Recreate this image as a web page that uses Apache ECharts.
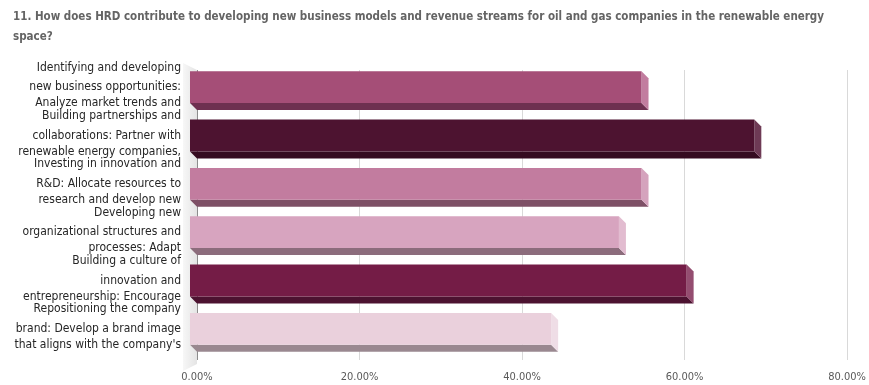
<!DOCTYPE html>
<html>
<head>
<meta charset="utf-8">
<script src="https://cdn.jsdelivr.net/npm/echarts@6/dist/echarts.min.js"></script>
<style>
  html, body { margin: 0; padding: 0; background: #fff; }
  #chart { width: 869px; height: 385px; }
</style>
</head>
<body>
<div id="chart"></div>
<script>
// Survey question and answer options (labels are cut to three lines each)
const titleText = '11. How does HRD contribute to developing new business models and revenue streams for oil and gas companies in the renewable energy\nspace?';

const categories = [
  'Identifying and developing\nnew business opportunities:\nAnalyze market trends and',
  'Building partnerships and\ncollaborations: Partner with\nrenewable energy companies,',
  'Investing in innovation and\nR&D: Allocate resources to\nresearch and develop new',
  'Developing new\norganizational structures and\nprocesses: Adapt',
  'Building a culture of\ninnovation and\nentrepreneurship: Encourage',
  'Repositioning the company\nbrand: Develop a brand image\nthat aligns with the company\'s'
];

// Share of respondents per option (percent)
const values = [55.56, 69.44, 55.56, 52.78, 61.11, 44.44];

// Face colours for each bar: front, bottom, right side
const frontColors = ['#a54e77', '#4d1330', '#c27c9f', '#d7a4bf', '#741c46', '#ead0dc'];
const bottomColors = ['#6e3050', '#350b20', '#7e5066', '#8c6c7c', '#4c1230', '#9a8890'];
const sideColors = ['#c27d9f', '#6e3a55', '#d5a3bd', '#e2bcd0', '#944d70', '#efdde6'];

// Value axis ticks
const axisMin = 0, axisMax = 80, axisStep = 20;

const DEPTH = 7;        // pseudo-3D depth offset in px
const BAR_RATIO = 0.66; // bar thickness relative to category band

const chart = echarts.init(document.getElementById('chart'));

function renderBar(params, api) {
  const v = api.value(0);
  const idx = api.value(1);
  const p0 = api.coord([0, idx]);
  const p1 = api.coord([v, idx]);
  const band = api.size([0, 1])[1];
  const h = band * BAR_RATIO;
  const bx0 = p0[0], bx1 = p1[0];
  const by0 = p0[1] - h / 2, by1 = p0[1] + h / 2;
  const d = DEPTH;
  return {
    type: 'group',
    children: [
      {
        type: 'polygon',
        shape: { points: [[bx0 - d, by1 - d], [bx1 - d, by1 - d], [bx1, by1], [bx0, by1]] },
        style: { fill: bottomColors[idx] }
      },
      {
        type: 'polygon',
        shape: { points: [[bx1 - d, by0 - d], [bx1, by0], [bx1, by1], [bx1 - d, by1 - d]] },
        style: { fill: sideColors[idx] }
      },
      {
        type: 'rect',
        shape: { x: bx0 - d, y: by0 - d, width: bx1 - bx0, height: by1 - by0 },
        style: { fill: frontColors[idx] }
      }
    ]
  };
}

// Left side wall of the 3D plot area
function renderWall(params, api) {
  const cs = params.coordSys;
  const x0 = api.coord([0, 0])[0];
  const top = cs.y, bottom = cs.y + cs.height;
  const w = 14;
  return {
    type: 'polygon',
    shape: { points: [[x0 - w, top - 7], [x0, top], [x0, bottom + 4], [x0 - w, bottom + 11]] },
    style: {
      fill: new echarts.graphic.LinearGradient(0, 0, 1, 0, [
        { offset: 0, color: '#f7f7f7' },
        { offset: 1, color: '#e4e4e4' }
      ])
    }
  };
}

chart.setOption({
  animation: false,
  backgroundColor: '#ffffff',
  title: {
    text: titleText,
    left: 8,
    top: 2,
    textStyle: {
      fontFamily: 'DejaVu Sans Condensed, sans-serif',
      fontSize: 11.5,
      fontWeight: 'bold',
      color: '#646464',
      lineHeight: 20
    }
  },
  grid: { left: 197, right: 17, top: 70, height: 290 },
  xAxis: {
    type: 'value',
    min: axisMin,
    max: axisMax,
    interval: axisStep,
    axisLine: { show: false },
    axisTick: { show: false },
    splitLine: {
      show: true,
      lineStyle: { color: ['#8c8c8c', '#d9d9d9', '#d9d9d9', '#d9d9d9', '#d9d9d9'], width: 1 }
    },
    axisLabel: {
      margin: 12,
      formatter: v => v.toFixed(2) + '%',
      fontFamily: 'DejaVu Sans Condensed, sans-serif',
      fontSize: 11,
      color: '#595959'
    }
  },
  yAxis: {
    type: 'category',
    inverse: true,
    data: categories,
    axisLine: { show: false },
    axisTick: { show: false },
    splitLine: { show: false },
    axisLabel: {
      margin: 16,
      align: 'right',
      padding: [0, 0, 21, 0],
      formatter: s => s.split('\n').map((l, i) => (i === 0 ? '{a|' : '{b|') + l + '}').join('\n'),
      rich: {
        a: { lineHeight: 23, fontSize: 12, color: '#262626', fontFamily: 'DejaVu Sans Condensed, sans-serif', align: 'right' },
        b: { lineHeight: 16, fontSize: 12, color: '#262626', fontFamily: 'DejaVu Sans Condensed, sans-serif', align: 'right' }
      }
    }
  },
  series: [
    {
      type: 'custom',
      renderItem: renderWall,
      data: [[0, 0]],
      z: 1,
      silent: true
    },
    {
      type: 'custom',
      renderItem: renderBar,
      encode: { x: 0, y: 1 },
      data: values.map((v, i) => [v, i]),
      z: 2
    }
  ]
});
</script>
</body>
</html>
